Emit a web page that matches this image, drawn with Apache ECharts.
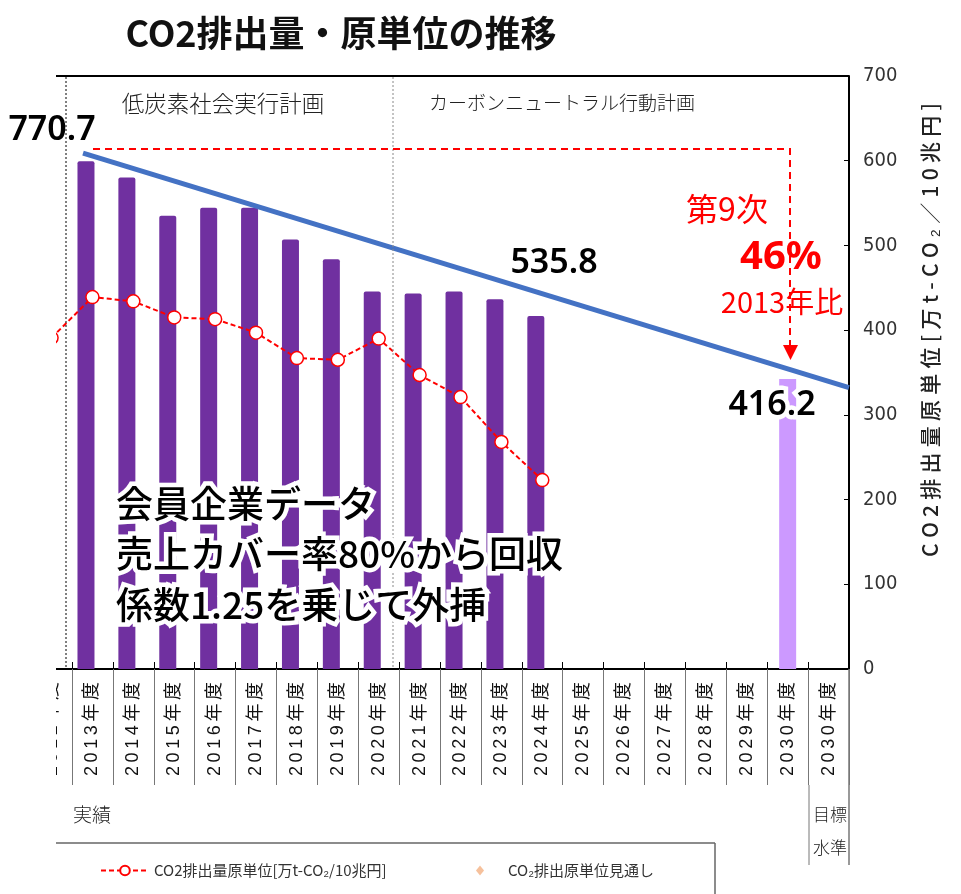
<!DOCTYPE html>
<html><head><meta charset="utf-8">
<script src="https://cdn.jsdelivr.net/npm/echarts@6/dist/echarts.min.js"></script>
<style>html,body{margin:0;padding:0;background:#fff}#c{width:961px;height:894px}</style>
</head><body><div id="c"></div>
<script>
// ---- data ----
const categories = ['2012年度','2013年度','2014年度','2015年度','2016年度','2017年度','2018年度','2019年度','2020年度','2021年度','2022年度','2023年度','2024年度','2025年度','2026年度','2027年度','2028年度','2029年度','2030年度','2030年度'];
const emissions = [null, 770.7, 746, 688, 700, 700, 652, 622, 573, 570, 573, 561, 535.8, null, null, null, null, null, null, null];
const target2030 = [null, null, null, null, null, null, null, null, null, null, null, null, null, null, null, null, null, null, 440, null];
const intensity = [391, 439, 434, 415, 413, 397, 367, 365, 390, 347, 321, 268, 223, null, null, null, null, null, null, null];
const trendLine = [[1.27, 783], [20, 427]];
const emptySeries = categories.map(() => null);
const rightAxisMax = 700, rightAxisStep = 100, leftAxisMax = 900;

const CJK = '"Noto Sans CJK JP", sans-serif';
const spaced = (s, sp) => s.split('').join(sp);

const chart = echarts.init(document.getElementById('c'), null, {renderer: 'canvas'});

const glowText = (x, y, text, font, align) => ([
  {type:'text', x, y, z:90, style:{text, font, fill:'#fff', stroke:'#fff', lineWidth:9, textAlign:align||'center', textVerticalAlign:'middle', shadowBlur:8, shadowColor:'#fff'}},
  {type:'text', x, y, z:91, style:{text, font, fill:'#000', textAlign:align||'center', textVerticalAlign:'middle'}}
]);

const graphics = [
  {type:'rect', z:50, shape:{x:0, y:66, width:56, height:724}, style:{fill:'#fff'}},
  {type:'line', z:60, shape:{x1:56, y1:76, x2:849, y2:76}, style:{stroke:'#000', lineWidth:2}},
  {type:'line', z:60, shape:{x1:66, y1:77, x2:66, y2:668}, style:{stroke:'#000', lineWidth:1, lineDash:[2,2]}},
  {type:'line', z:60, shape:{x1:393, y1:77, x2:393, y2:668}, style:{stroke:'#888', lineWidth:1, lineDash:[2,2]}},
  {type:'line', z:60, shape:{x1:809, y1:785, x2:809, y2:865}, style:{stroke:'#777', lineWidth:1}},
  {type:'line', z:60, shape:{x1:849, y1:669, x2:849, y2:865}, style:{stroke:'#777', lineWidth:1.5}},
  {type:'line', z:60, shape:{x1:56, y1:843, x2:715, y2:843}, style:{stroke:'#666', lineWidth:1.5}},
  {type:'line', z:60, shape:{x1:715, y1:843, x2:715, y2:894}, style:{stroke:'#666', lineWidth:1.5}},
  {type:'polyline', z:60, shape:{points:[[93,149],[790,149],[790,346]]}, style:{stroke:'#FF0000', lineWidth:2, lineDash:[7,5], fill:null}},
  {type:'polygon', z:60, shape:{points:[[783,345],[798,345],[790.5,360]]}, style:{fill:'#FF0000'}},
  {type:'text', x:341, y:33, z:70, style:{text:'CO2排出量・原単位の推移', font:'bold 36px '+CJK, fill:'#111', textAlign:'center', textVerticalAlign:'middle'}},
  {type:'text', x:223, y:103, z:70, style:{text:'低炭素社会実行計画', font:'300 22.5px '+CJK, fill:'#222', textAlign:'center', textVerticalAlign:'middle'}},
  {type:'text', x:562, y:103, z:70, style:{text:'カーボンニュートラル行動計画', font:'300 19px '+CJK, fill:'#222', textAlign:'center', textVerticalAlign:'middle'}},
  {type:'text', x:52, y:130, z:70, style:{text:'770.7', font:'600 34px "Noto Sans", sans-serif', fill:'#000', textAlign:'center', textVerticalAlign:'middle'}},
  {type:'text', x:554, y:263, z:70, style:{text:'535.8', font:'600 34px "Noto Sans", sans-serif', fill:'#000', textAlign:'center', textVerticalAlign:'middle'}},
  {type:'text', x:727, y:209, z:70, style:{text:'第9次', font:'32px '+CJK, fill:'#FF0000', textAlign:'center', textVerticalAlign:'middle'}},
  {type:'text', x:781, y:258, z:70, style:{text:'46%', font:'bold 40px "Noto Sans", sans-serif', fill:'#FF0000', textAlign:'center', textVerticalAlign:'middle'}},
  {type:'text', x:782, y:302, z:70, style:{text:'2013年比', font:'29px '+CJK, fill:'#FF0000', textAlign:'center', textVerticalAlign:'middle'}},
  ...glowText(772, 405, '416.2', '600 34px "Noto Sans", sans-serif'),
  ...glowText(116, 504, '会員企業データ', '500 37px '+CJK, 'left'),
  ...glowText(116, 554, '売上カバー率80%から回収', '500 37px '+CJK, 'left'),
  ...glowText(116, 605, '係数1.25を乗じて外挿', '500 37px '+CJK, 'left'),
  {type:'text', x:930, y:330, rotation:Math.PI/2, z:70, style:{text:spaced('CO2排出量原単位[万t-CO₂／10兆円]', '\u2005'), font:'500 21px '+CJK, fill:'#222', textAlign:'center', textVerticalAlign:'middle'}},
  {type:'text', x:92, y:815, z:70, style:{text:'実績', font:'300 19px '+CJK, fill:'#222', textAlign:'center', textVerticalAlign:'middle'}},
  {type:'text', x:830, y:815, z:70, style:{text:'目標', font:'300 17px '+CJK, fill:'#222', textAlign:'center', textVerticalAlign:'middle'}},
  {type:'text', x:830, y:848, z:70, style:{text:'水準', font:'300 17px '+CJK, fill:'#222', textAlign:'center', textVerticalAlign:'middle'}}
];

const option = {
  animation: false,
  backgroundColor: '#fff',
  textStyle: {fontFamily: CJK},
  grid: {left: 31.1, right: 112, top: 76, bottom: 225, containLabel: false, outerBoundsMode: 'none'},
  legend: [
    {data:['CO2排出量原単位[万t-CO₂/10兆円]'], left:100, top:863, padding:0, itemWidth:48, itemHeight:12, selectedMode:false,
     textStyle:{fontSize:15, color:'#333', fontFamily:CJK}},
    {data:['CO₂排出原単位見通し'], left:476, top:863, padding:0, itemWidth:8, itemHeight:10, selectedMode:false,
     textStyle:{fontSize:15, color:'#333', fontFamily:CJK, padding:[0,0,0,19]}}
  ],
  xAxis: [
    {type:'category', data:categories, position:'bottom', boundaryGap:true,
     axisLine:{show:true, onZero:false, lineStyle:{color:'#000', width:2}},
     axisTick:{show:true, inside:false, length:116, interval:0, lineStyle:{color:'#777', width:1}},
     axisLabel:{interval:0, rotate:90, margin:13, fontSize:18, color:'#111', fontFamily:'"Liberation Sans", "Noto Sans CJK JP", sans-serif',
       formatter: v => spaced(v, '\u2009')},
     splitLine:{show:false}},
    {type:'category', data:categories, position:'bottom', boundaryGap:true,
     axisLine:{show:false, onZero:false},
     axisTick:{show:true, inside:true, length:7, interval:0, lineStyle:{color:'#000', width:1}},
     axisLabel:{show:false}, splitLine:{show:false}},
    {type:'value', min:0, max:categories.length, show:false, splitLine:{show:false}}
  ],
  yAxis: [
    {type:'value', min:0, max:leftAxisMax, show:false, splitLine:{show:false}},
    {type:'value', min:0, max:rightAxisMax, interval:rightAxisStep, position:'right',
     axisLine:{show:true, onZero:false, lineStyle:{color:'#000', width:2}},
     axisTick:{show:true, inside:true, length:5, lineStyle:{color:'#000', width:1}},
     axisLabel:{margin:14, fontSize:20, color:'#333', fontFamily:'"Liberation Sans Narrow", "DejaVu Sans Condensed", sans-serif'},
     splitLine:{show:false}}
  ],
  series: [
    {name:'CO2排出量', type:'bar', xAxisIndex:0, yAxisIndex:0, data:emissions, barWidth:17,
     itemStyle:{color:'#7030A0', borderRadius:[2,2,0,0]}, z:2},
    {name:'2030目標', type:'bar', xAxisIndex:0, yAxisIndex:0, data:target2030, barWidth:17,
     itemStyle:{color:'#CC99FF'}, z:2},
    {name:'_', type:'bar', xAxisIndex:0, yAxisIndex:0, data:emptySeries, barWidth:17, barGap:'-62%', z:2},
    {name:'CO2排出量原単位[万t-CO₂/10兆円]', type:'line', xAxisIndex:0, yAxisIndex:1, data:intensity,
     symbol:'circle', symbolSize:13, showAllSymbol:true,
     itemStyle:{color:'#fff', borderColor:'#FF0000', borderWidth:1.5},
     lineStyle:{color:'#FF0000', width:2, type:[5,3]}, z:4},
    {name:'trend', type:'line', xAxisIndex:2, yAxisIndex:0, data:trendLine, symbol:'none',
     lineStyle:{color:'#4472C4', width:5}, z:5},
    {name:'CO₂排出原単位見通し', type:'scatter', xAxisIndex:0, yAxisIndex:1, data:[], symbol:'diamond',
     itemStyle:{color:'#F4B183'}}
  ],
  graphic: graphics
};
chart.setOption(option);
</script>
</body></html>
